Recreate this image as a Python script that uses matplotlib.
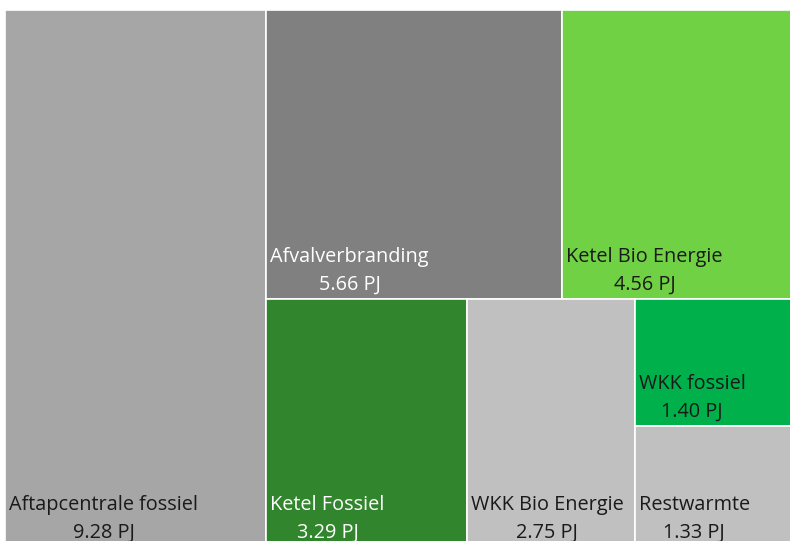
import matplotlib
matplotlib.use("Agg")
import matplotlib.pyplot as plt
from matplotlib.patches import Rectangle

# data
labels = ["Aftapcentrale fossiel", "Afvalverbranding", "Ketel Bio Energie",
          "Ketel Fossiel", "WKK Bio Energie", "WKK fossiel", "Restwarmte"]
values = [9.28, 5.66, 4.56, 3.29, 2.75, 1.40, 1.33]
colors = ["#a6a6a6", "#808080", "#6fd143", "#31852c", "#c0c0c0", "#00b04b", "#c0c0c0"]
text_colors = ["#1a1a1a", "#ffffff", "#1a1a1a", "#ffffff", "#1a1a1a", "#1a1a1a", "#1a1a1a"]


def worst(row, w):
    s = sum(row)
    return max(max(w * w * r / (s * s), (s * s) / (w * w * r)) for r in row)


def layout_row(row, x, y, dx, dy):
    """place a row along the shorter side, return rects and the leftover rect"""
    s = sum(row)
    rects = []
    if dx >= dy:
        width = s / dy
        yy = y
        for r in row:
            h = r / width
            rects.append((x, yy, width, h))
            yy += h
        return rects, (x + width, y, dx - width, dy)
    height = s / dx
    xx = x
    for r in row:
        w = r / height
        rects.append((xx, y, w, height))
        xx += w
    return rects, (x, y + height, dx, dy - height)


def squarify(vals, x, y, dx, dy):
    total = sum(vals)
    areas = [v * dx * dy / total for v in vals]
    rects = []
    rest = (x, y, dx, dy)
    i = 0
    while i < len(areas):
        side = min(rest[2], rest[3])
        row = [areas[i]]
        i += 1
        while i < len(areas) and worst(row + [areas[i]], side) <= worst(row, side):
            row.append(areas[i])
            i += 1
        r, rest = layout_row(row, *rest)
        rects.extend(r)
    return rects


W, H = 796, 537
fig = plt.figure(figsize=(7.9, 5.41), dpi=100)
ax = fig.add_axes([5 / 790, (541 - 10 - H) / 541, W / 790, H / 541])
ax.set_xlim(0, W)
ax.set_ylim(H, 0)
ax.axis("off")

for (x, y, w, h), lab, v, c, tc in zip(squarify(values, 0, 0, W, H), labels, values, colors, text_colors):
    ax.add_patch(Rectangle((x, y), w, h, facecolor=c, edgecolor="white", linewidth=1.2))
    ax.text(x + 4, y + h - 4, f"{lab}\n{v:.2f} PJ", ha="left", va="bottom",
            multialignment="center", fontsize=14.3, linespacing=1.55,
            color=tc, family="Open Sans")

fig.savefig("out.png", dpi=100)
